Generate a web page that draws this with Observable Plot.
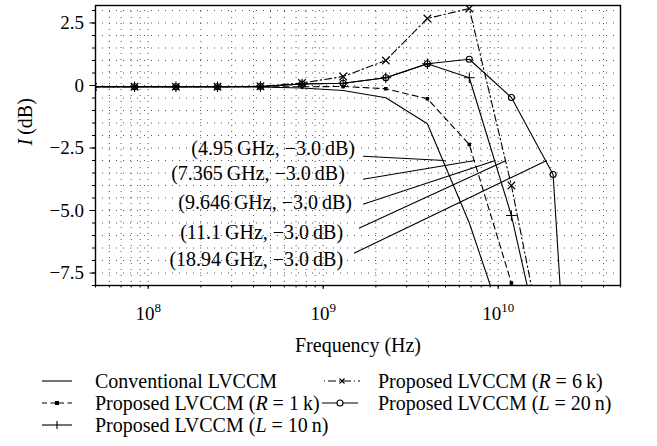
<!DOCTYPE html>
<html><head><meta charset="utf-8">
<script src="https://cdn.jsdelivr.net/npm/d3@7"></script>
<script src="https://cdn.jsdelivr.net/npm/@observablehq/plot@0.6"></script>
<style>
html,body{margin:0;padding:0;background:#fff;}
body{font-family:"Liberation Serif",serif;color:#000;width:657px;height:446px;position:relative;overflow:hidden;}
#legend{position:relative;width:657px;height:86px;}
.item{position:absolute;display:flex;align-items:center;font-size:20px;white-space:nowrap;height:22px;}
.item svg{display:block;}
</style></head><body>
<div id="chart"></div>
<div id="legend"></div>
<script>
// ---- data ----
const freqHz = [4.84e7, 8.36e7, 1.44e8, 2.49e8, 4.38e8, 7.57e8, 1.30e9, 2.28e9, 3.94e9, 6.84e9, 1.19e10, 2.06e10, 3.56e10];
const conventional = [-0.05, -0.05, -0.05, -0.05, -0.06, -0.10, -0.20, -0.49, -1.53, -5.5, -10.5];
const proposedR1k  = [-0.05, -0.05, -0.05, -0.05, -0.05, -0.05, -0.04, -0.13, -0.53, -2.36, -7.9, -15.0];
const proposedL10n = [-0.05, -0.05, -0.05, -0.05, -0.04, 0.06, 0.09, 0.31, 0.87, 0.31, -5.2, -12.6];
const proposedR6k  = [-0.05, -0.05, -0.05, -0.05, -0.03, 0.10, 0.36, 1.00, 2.68, 3.08, -4.0, -12.4];
const proposedL20n = [-0.05, -0.05, -0.05, -0.05, -0.04, 0.06, 0.09, 0.31, 0.87, 1.05, -0.48, -3.56, -30];
const seriesNames = ["Conventional LVCCM", "Proposed LVCCM (R = 1 k)", "Proposed LVCCM (L = 10 n)", "Proposed LVCCM (R = 6 k)", "Proposed LVCCM (L = 20 n)"];

const cutoffGHz = [4.95, 7.365, 9.646, 11.1, 18.94];
const cutoffText = ["4.95", "7.365", "9.646", "11.1", "18.94"];
const cutoffDb = [-3.0, -3.0, -3.0, -3.0, -3.0];

const yTicks = [-7.5, -5.0, -2.5, 0, 2.5];
const yTickLabels = ["−7.5", "−5.0", "−2.5", "0", "2.5"];
const xTicks = [1e8, 1e9, 1e10];
const xTickExponents = ["8", "9", "10"];

// annotation label placement (data units)
const labelAnchor = {
  lx: [1.52e9, 1.33e9, 1.46e9, 1.30e9, 1.30e9],
  ly: [-2.51, -3.51, -4.67, -5.87, -6.95],
  sx: [1.69e9, 1.69e9, 1.69e9, 1.60e9, 1.50e9],
  sy: [-2.83, -3.75, -4.75, -5.71, -6.71]
};

// ---- build tables ----
const seriesValues = [conventional, proposedR1k, proposedL10n, proposedR6k, proposedL20n];
const rows = [];
seriesValues.forEach((vals, si) => vals.forEach((v, i) => rows.push({s: seriesNames[si], f: freqHz[i], v})));
const bySeries = name => rows.filter(r => r.s === name);

const ann = cutoffGHz.map((g, i) => ({
  px: g * 1e9, py: cutoffDb[i],
  label: `(${cutoffText[i]}\u2009GHz, −${Math.abs(cutoffDb[i]).toFixed(1)}\u2009dB)`,
  lx: labelAnchor.lx[i], ly: labelAnchor.ly[i], sx: labelAnchor.sx[i], sy: labelAnchor.sy[i]
}));

const yMinor = d3.range(-8, 3.01, 0.5).map(d => +d.toFixed(2));
const xMinor = [];
for (let e = 7; e <= 10; e++) for (let m = 1; m <= 9; m++) { const v = m * 10 ** e; if (v >= 5e7 && v <= 5e10) xMinor.push(v); }

const gridStyle = {stroke: "#555", strokeWidth: 1, strokeDasharray: "1,6"};
const lineBase = {x: "f", y: "v", stroke: "black", strokeWidth: 1.1, clip: true};

const chart = Plot.plot({
  width: 657,
  height: 360,
  marginLeft: 95,
  marginRight: 37,
  marginTop: 5,
  marginBottom: 75,
  style: {fontFamily: "'Liberation Serif', serif", fontSize: "19px", background: "white", color: "black"},
  x: {type: "log", domain: [5e7, 5e10]},
  y: {domain: [-8, 3.2]},
  marks: [
    Plot.ruleY(yMinor.filter(d => d > -8), {...gridStyle}),
    Plot.ruleX(xMinor, {...gridStyle, strokeDasharray: "1,5"}),
    Plot.axisY(yMinor, {tickSize: 3, tickFormat: () => "", label: null}),
    Plot.axisY(yTicks, {tickSize: 5.5, tickPadding: 6, tickFormat: d => yTickLabels[yTicks.indexOf(d)], label: null, fontSize: 19}),
    Plot.axisX(xMinor, {tickSize: 2.5, tickFormat: () => "", label: null}),
    Plot.axisX(xTicks, {tickSize: 4, tickFormat: () => "", label: null}),
    Plot.text(xTicks, {x: d => d, frameAnchor: "bottom", dy: 28, lineAnchor: "middle", fontSize: 19, text: d => "10^" + xTickExponents[xTicks.indexOf(d)]}),
    Plot.text(["Frequency (Hz)"], {frameAnchor: "bottom", dy: 60, lineAnchor: "middle", fontSize: 20}),
    Plot.text(["I (dB)"], {frameAnchor: "left", dx: -70, rotate: -90, lineAnchor: "middle", fontSize: 20}),
    // series
    Plot.line(bySeries(seriesNames[0]), {...lineBase}),
    Plot.line(bySeries(seriesNames[1]), {...lineBase, strokeDasharray: "6,4"}),
    Plot.dot(bySeries(seriesNames[1]), {x: "f", y: "v", symbol: "square", r: 2, fill: "black", clip: true}),
    Plot.line(bySeries(seriesNames[2]), {...lineBase}),
    Plot.dot(bySeries(seriesNames[2]), {x: "f", y: "v", symbol: "plus", r: 3.5, stroke: "black", fill: "none", strokeWidth: 1.1, clip: true}),
    Plot.line(bySeries(seriesNames[3]), {...lineBase, strokeDasharray: "7,3,1.5,3"}),
    Plot.dot(bySeries(seriesNames[3]), {x: "f", y: "v", symbol: "times", r: 3.5, stroke: "black", fill: "none", strokeWidth: 1.1, clip: true}),
    Plot.line(bySeries(seriesNames[4]), {...lineBase}),
    Plot.dot(bySeries(seriesNames[4]), {x: "f", y: "v", symbol: "circle", r: 3, stroke: "black", fill: "none", strokeWidth: 1.2, clip: true}),
    // annotations
    Plot.link(ann, {x1: "sx", y1: "sy", x2: "px", y2: "py", stroke: "black", strokeWidth: 1.1}),
    Plot.text(ann, {x: "lx", y: "ly", text: "label", textAnchor: "end", lineAnchor: "middle", fontSize: 20}),
    Plot.frame({stroke: "black", strokeWidth: 1.4})
  ]
});

// superscripts and italics as real text
d3.select(chart).selectAll("text").each(function () {
  const t = this.textContent;
  const m = /^10\^(\d+)$/.exec(t);
  if (m) {
    this.textContent = "";
    d3.select(this).append("tspan").text("10");
    d3.select(this).append("tspan").attr("font-size", 13).attr("dy", "-0.55em").text(m[1]);
  } else if (t === "I (dB)") {
    this.textContent = "";
    d3.select(this).append("tspan").attr("font-style", "italic").text("I");
    d3.select(this).append("tspan").text("\u2009(dB)");
  }
});
document.getElementById("chart").appendChild(chart);

// ---- legend ----
const swatch = {
  "Conventional LVCCM": `<line x1="0" y1="6" x2="30" y2="6" stroke="black" stroke-width="1.1"/>`,
  "Proposed LVCCM (R = 1 k)": `<line x1="0" y1="6" x2="30" y2="6" stroke="black" stroke-width="1.1" stroke-dasharray="5,3.5"/><rect x="13" y="4" width="4" height="4" fill="black"/>`,
  "Proposed LVCCM (L = 10 n)": `<line x1="0" y1="6" x2="30" y2="6" stroke="black" stroke-width="1.1"/><line x1="15" y1="2" x2="15" y2="10" stroke="black" stroke-width="1.1"/>`,
  "Proposed LVCCM (R = 6 k)": `<line x1="0" y1="6" x2="36" y2="6" stroke="black" stroke-width="1.1" stroke-dasharray="1,3,8,3"/><path d="M15.5,3.5L20.5,8.5M20.5,3.5L15.5,8.5" stroke="black" stroke-width="1.1"/>`,
  "Proposed LVCCM (L = 20 n)": `<line x1="0" y1="6" x2="36" y2="6" stroke="black" stroke-width="1.1"/><circle cx="18" cy="6" r="3" fill="white" stroke="black" stroke-width="1.1"/>`
};
const legendPos = [
  {s: seriesNames[0], sx: 42, tx: 95, row: 0, sw: 30},
  {s: seriesNames[1], sx: 42, tx: 95, row: 1, sw: 30},
  {s: seriesNames[2], sx: 42, tx: 95, row: 2, sw: 30},
  {s: seriesNames[3], sx: 324, tx: 378, row: 0, sw: 36},
  {s: seriesNames[4], sx: 322, tx: 378, row: 1, sw: 36}
];
const fmtName = s => s.replace(/\((R|L) = (\d+) (k|n)\)/, (m, a, b, c) => `(<i>${a}</i> = ${b}\u2009${c})`);
const legend = document.getElementById("legend");
legendPos.forEach(p => {
  const sw = document.createElement("div");
  sw.className = "item";
  sw.style.left = p.sx + "px";
  sw.style.top = (10 + p.row * 22) + "px";
  sw.innerHTML = `<svg width="${p.sw}" height="12">${swatch[p.s]}</svg>`;
  legend.appendChild(sw);
  const tx = document.createElement("div");
  tx.className = "item";
  tx.style.left = p.tx + "px";
  tx.style.top = (10 + p.row * 22) + "px";
  tx.innerHTML = `<span>${fmtName(p.s)}</span>`;
  legend.appendChild(tx);
});
</script>
</body></html>
